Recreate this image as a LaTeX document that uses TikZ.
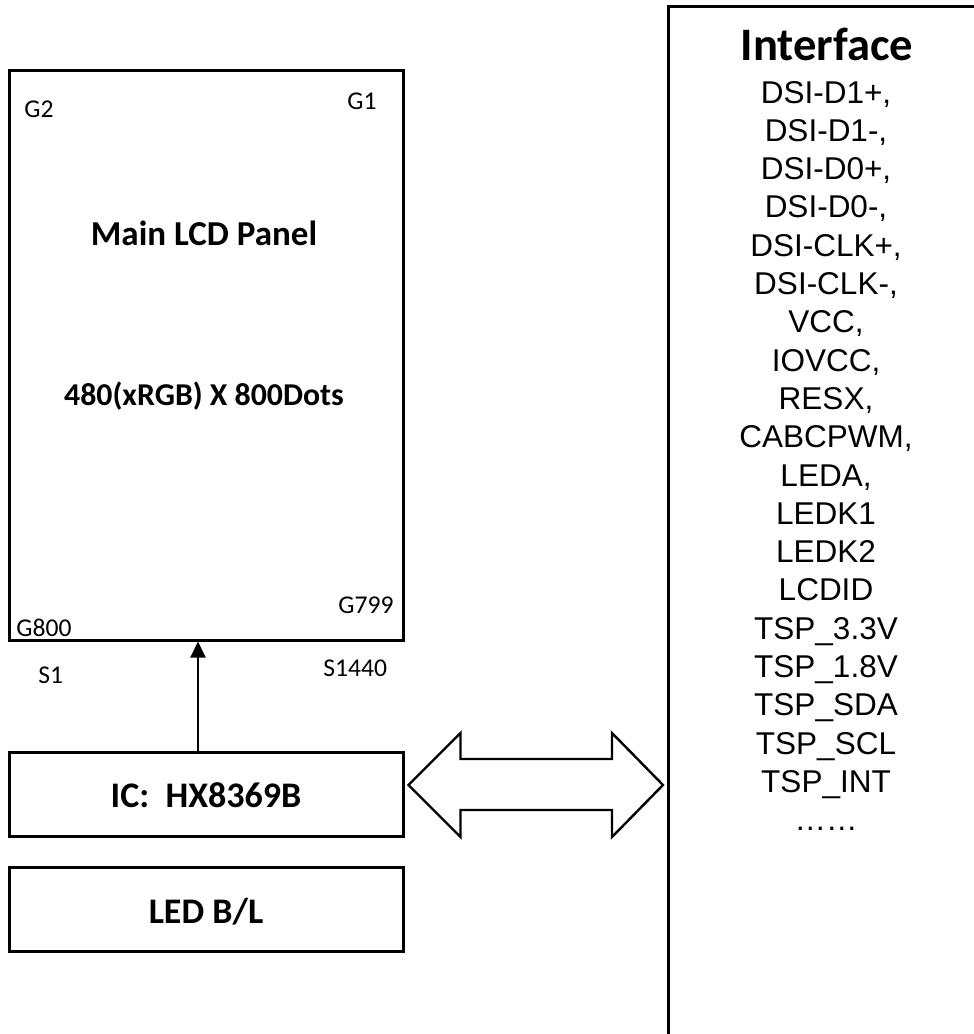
\documentclass[tikz,border=0pt]{standalone}
\usepackage{fontspec}
\setmainfont{Carlito}
\newfontfamily\arialfont{Liberation Sans}
\usetikzlibrary{arrows.meta,calc}

\tikzset{
  box/.style={draw, line width=1.5pt, inner sep=0pt},
  pinlabel/.style={anchor=base west, inner sep=0pt, font=\fontsize{12.8}{15}\selectfont},
  title/.style={anchor=base, inner sep=0pt, font=\bfseries\fontsize{17.5}{21}\selectfont},
  signal/.style={anchor=base, inner sep=0pt, font=\arialfont\fontsize{15.75}{19}\selectfont},
  bus/.style={draw, line width=1.2pt, line join=miter},
}

\begin{document}
\begin{tikzpicture}[x=0.5pt, y=-0.5pt]
\useasboundingbox (0,0) rectangle (974,1034);
\clip (0,0) rectangle (974,1034);

% Blocks
\node[box, minimum width=197pt, minimum height=285pt] (panel) at (206,355) {};
\node[box, minimum width=197pt, minimum height=42pt] (ic) at (206,794) {};
\node[box, minimum width=197pt, minimum height=42pt] (led) at (206,909) {};
\node[box, minimum width=170pt, minimum height=540pt, anchor=north west] (iface) at (667,5) {};

% Panel texts
\node[title] (lcdname) at (204,245) {Main LCD Panel};
\node[title, font=\bfseries\fontsize{15.9}{19}\selectfont] (lcdres) at (204,405) {480(xRGB) X 800Dots};

% Gate / source corners
\node[pinlabel] (g2) at (24,117) {G2};
\node[pinlabel] (g1) at (347,109) {G1};
\node[pinlabel] (g799) at (338,613) {G799};
\node[pinlabel] (g800) at (16,636) {G800};
\node[pinlabel] (s1) at (38,683) {S1};
\node[pinlabel] (s1440) at (323,676) {S1440};

% Driver IC and backlight
\node[title, font=\bfseries\fontsize{18}{22}\selectfont] (icname) at (206,807) {IC:\ \ HX8369B};
\node[title, font=\bfseries\fontsize{18}{22}\selectfont] (ledname) at (206,923) {LED B/L};

% IC drives the panel
\draw[line width=1pt, -{Triangle[width=7.5pt,length=8pt]}]
    ($(ic.north)+(-8,0)$) -- ($(panel.south)+(-8,0)$);

% Bus between IC and interface
\coordinate (busL) at ($(ic.east)+(4,-9)$);
\coordinate (busR) at ($(iface.west |- busL)+(-4,0)$);
\draw[bus] (busL) -- ++(52,-52) -- ++(0,26) -- ($(busR)+(-51,-26)$) -- ++(0,-26)
    -- (busR) -- ++(-51,52) -- ++(0,-27) -- ($(busL)+(52,25)$) -- ++(0,27) -- cycle;

% Interface signals
\node[title, font=\bfseries\fontsize{23.3}{28}\selectfont] (ifname) at (827,60) {Interface};
\foreach \sig [count=\i from 0] in {{DSI-D1+,},{DSI-D1-,},{DSI-D0+,},{DSI-D0-,},
    {DSI-CLK+,},{DSI-CLK-,},{VCC,},{IOVCC,},{RESX,},{CABCPWM,},{LEDA,},
    LEDK1,LEDK2,LCDID,TSP\_3.3V,TSP\_1.8V,TSP\_SDA,TSP\_SCL,TSP\_INT,……}
  \node[signal] (sig\i) at (826,{103+38.3*\i}) {\sig};

\end{tikzpicture}
\end{document}
